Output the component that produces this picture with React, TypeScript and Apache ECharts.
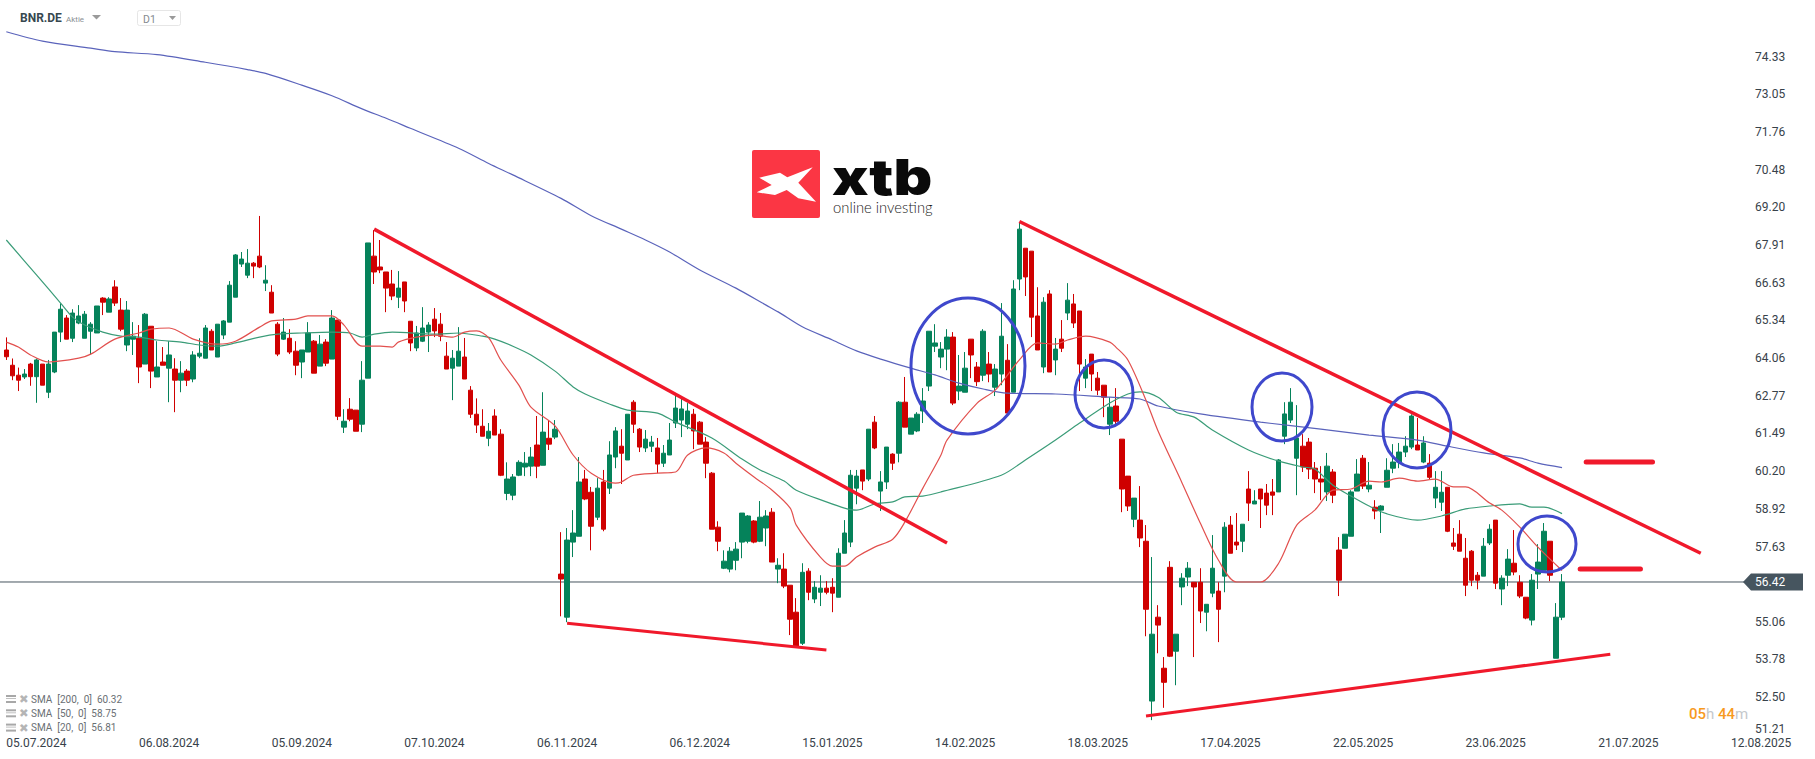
import React, { useEffect, useRef } from "react";
import * as echarts from "echarts";

const dateLabels = ["05.07.2024","06.08.2024","05.09.2024","07.10.2024","06.11.2024","06.12.2024","15.01.2025","14.02.2025","18.03.2025","17.04.2025","22.05.2025","23.06.2025","21.07.2025","12.08.2025"];
const priceTicks = [74.33,73.05,71.76,70.48,69.20,67.91,66.63,65.34,64.06,62.77,61.49,60.20,58.92,57.63,55.06,53.78,52.50];
const bottomTick = 51.21;
const lastPrice = 56.42;

const opens = [
64.33,63.81,63.47,63.41,63.85,63.42,63.85,62.89,63.58,64.94,
65.42,64.73,65.25,64.73,64.97,64.91,66.10,65.62,66.48,65.69,
64.50,64.70,64.73,63.85,65.14,63.41,63.92,63.71,63.68,63.30,
63.61,63.34,64.12,64.05,64.97,64.09,64.84,65.28,66.13,67.26,
66.88,67.29,67.53,66.61,66.30,65.21,64.70,64.73,64.29,63.92,
64.26,64.63,63.78,64.60,64.02,65.35,61.70,62.31,62.28,61.80,
63.37,67.53,67.16,66.99,66.58,66.13,66.65,65.31,64.40,64.63,
64.94,65.38,65.21,64.12,63.71,63.78,64.09,62.96,62.14,61.73,
61.32,62.08,61.46,59.44,59.38,60.06,60.34,60.37,61.09,60.40,
61.32,61.36,56.69,55.22,57.78,57.98,59.93,59.48,58.63,59.83,
59.62,60.68,61.05,60.58,62.55,61.63,60.99,61.05,60.99,60.47,
60.75,61.84,61.94,61.80,62.14,61.87,61.19,60.13,58.29,56.89,
56.86,57.16,57.78,57.81,58.50,57.81,58.26,58.80,56.86,56.86,
56.31,55.39,54.33,56.79,55.84,56.07,56.21,56.24,55.90,57.40,
57.78,59.62,60.24,59.93,61.87,59.52,59.83,60.78,60.81,62.55,
61.46,61.57,62.25,63.10,64.46,64.09,64.36,64.77,62.93,62.89,
64.70,63.75,63.47,63.85,63.06,63.51,63.98,62.89,66.75,67.80,
67.70,65.49,63.75,66.24,63.99,64.70,65.59,65.90,65.66,63.37,
64.19,63.37,63.13,61.80,62.42,61.29,60.03,58.56,58.53,57.81,
52.36,55.22,53.48,56.92,54.06,56.25,56.59,56.41,56.41,55.39,
56.04,56.11,56.62,58.36,57.78,57.81,59.59,59.08,59.59,59.45,
59.49,59.49,61.39,61.94,60.64,61.05,61.19,60.30,59.93,59.49,
60.17,57.51,57.57,57.98,59.52,60.64,59.59,58.97,58.87,59.65,
60.30,60.51,60.85,61.02,61.09,60.51,60.47,59.28,59.14,59.65,
57.75,58.05,57.23,57.47,56.65,56.62,57.75,58.53,56.18,56.65,
57.06,56.41,55.90,55.12,56.69,56.82,57.81,53.82,55.22];

const closes = [
64.10,63.45,63.30,63.51,63.42,63.99,63.13,63.85,64.94,65.72,
64.70,65.59,65.49,65.55,65.21,65.83,65.96,66.07,65.93,65.04,
65.69,64.80,63.75,65.55,63.61,63.75,63.81,64.16,63.30,63.54,
63.30,64.16,64.22,65.08,64.33,65.21,65.32,66.54,67.57,67.43,
67.29,67.19,67.16,66.71,65.59,64.19,64.94,64.26,63.81,64.33,
64.91,63.54,64.53,63.88,65.42,62.07,61.90,61.97,61.56,63.30,
67.98,66.99,67.06,66.44,66.17,66.44,66.00,64.57,64.91,65.08,
65.18,64.98,64.80,63.68,64.05,64.29,63.34,62.14,61.77,61.39,
61.56,61.43,60.06,59.93,60.00,60.50,60.47,60.68,60.37,61.53,
61.12,61.63,56.52,57.85,58.09,59.83,59.25,58.32,59.62,58.22,
60.75,61.57,60.81,62.14,61.80,61.02,61.29,61.19,60.44,60.81,
61.26,62.35,62.32,62.25,61.57,61.12,60.47,58.22,57.81,57.13,
57.47,57.54,58.77,58.67,57.78,58.63,58.67,57.10,56.99,56.28,
55.15,54.21,56.75,56.07,56.24,56.21,56.07,56.04,57.40,58.09,
60.06,60.03,59.86,61.63,60.99,59.83,61.02,60.47,62.55,61.70,
62.01,62.14,62.59,64.97,64.57,64.36,64.77,62.52,63.10,63.71,
64.16,63.25,64.97,63.51,63.68,64.80,62.18,66.41,68.45,66.82,
65.45,64.33,65.96,63.58,64.36,64.39,66.03,65.25,63.85,63.75,
63.51,62.96,62.72,62.38,61.90,59.59,59.01,59.28,57.92,55.49,
54.64,54.95,53.00,53.89,54.64,56.55,56.89,56.25,55.43,55.66,
56.89,55.49,58.29,57.40,57.68,58.39,59.11,59.18,59.25,59.04,
59.38,60.58,62.15,62.55,61.33,60.34,60.27,59.93,59.83,60.37,
59.38,56.48,58.05,59.49,60.10,59.69,59.72,58.84,59.01,60.23,
60.51,60.85,61.05,62.08,60.92,61.16,59.99,59.65,59.48,58.15,
57.64,57.47,56.31,56.48,56.48,57.64,58.22,56.38,56.55,57.20,
56.76,55.94,55.19,56.48,57.10,58.15,56.65,55.22,56.42];

const lows = [
63.99,63.30,62.93,63.34,63.11,62.53,63.13,62.69,63.54,64.60,
64.70,64.60,65.21,64.73,64.17,64.91,65.52,65.62,65.83,64.97,
64.29,64.16,63.20,63.85,63.03,63.41,63.81,62.55,62.21,62.89,
63.10,63.23,64.05,64.05,64.33,64.09,64.70,65.28,66.13,67.16,
66.78,66.78,67.12,66.34,65.59,64.12,64.67,64.19,63.47,63.37,
64.26,63.54,63.78,63.78,64.02,61.94,61.50,61.90,61.56,61.53,
63.37,66.58,66.95,65.62,66.03,65.76,65.62,64.29,64.29,64.60,
64.26,64.77,64.63,63.68,62.62,63.78,63.34,62.01,61.50,61.39,
61.05,61.43,60.03,59.21,59.21,60.03,60.03,60.03,59.96,60.40,
60.92,61.29,55.25,55.05,57.27,57.98,59.21,57.50,58.53,58.15,
59.42,60.30,59.76,60.58,61.50,60.85,60.85,60.85,60.13,60.34,
60.75,61.67,61.36,61.63,60.95,61.12,59.96,58.22,57.47,56.86,
56.75,56.82,57.23,57.74,57.74,57.78,57.64,57.10,56.38,56.21,
54.61,54.21,54.27,55.80,55.70,55.60,56.00,55.39,55.90,57.40,
57.61,59.07,59.55,59.86,60.95,58.84,59.59,60.24,60.50,61.70,
61.46,61.53,61.84,62.93,64.26,63.71,63.64,62.45,62.62,62.89,
63.37,63.10,63.27,63.23,62.76,63.13,62.18,62.89,66.37,66.17,
64.77,64.33,63.54,63.58,63.47,64.26,65.35,65.08,62.93,63.03,
62.93,62.79,62.04,61.43,61.80,58.80,58.84,58.29,57.61,54.57,
51.71,53.99,52.13,53.86,52.90,55.63,56.28,53.86,55.02,54.74,
55.90,54.37,56.07,57.40,57.51,57.44,58.50,59.08,58.26,58.70,
58.70,59.49,61.12,61.84,59.38,60.17,59.93,59.45,59.21,59.18,
59.11,55.94,57.57,57.98,59.52,59.59,59.48,58.56,58.09,59.65,
60.13,60.30,60.68,60.95,60.92,60.47,59.93,58.94,58.84,58.12,
57.51,57.47,55.94,56.28,56.17,56.62,57.68,56.18,55.63,56.28,
56.65,55.87,55.15,54.94,56.18,56.82,56.45,53.82,55.12];

const highs = [
64.76,64.04,63.73,63.68,63.89,64.04,63.85,63.99,64.94,65.92,
65.52,65.72,65.86,65.66,65.28,65.83,66.13,66.13,66.71,66.10,
66.00,65.28,65.18,65.59,65.14,64.63,64.43,64.63,64.05,63.95,
63.68,64.29,64.73,65.18,65.04,65.21,65.35,66.68,67.60,67.67,
67.77,67.33,68.90,67.22,66.54,65.28,65.42,65.04,64.63,64.33,
65.28,64.67,64.84,64.70,65.69,65.35,62.31,62.69,62.28,63.95,
67.98,68.42,68.08,66.99,67.06,67.02,66.65,65.31,65.15,65.79,
65.28,65.76,65.59,64.60,64.33,65.11,64.74,63.10,62.68,62.31,
61.84,62.31,61.63,60.50,60.10,60.57,60.85,61.02,62.08,62.89,
61.94,61.94,58.12,58.26,58.87,60.68,60.24,59.66,59.96,60.24,
61.22,61.70,61.63,62.14,62.62,61.67,61.60,61.40,61.33,61.09,
61.84,62.83,62.69,62.52,62.32,61.91,61.36,60.17,58.49,57.50,
57.61,57.78,58.77,58.70,58.53,59.18,58.87,58.94,57.23,57.40,
56.31,55.87,57.06,56.89,56.45,56.65,56.45,56.55,57.57,58.53,
60.24,60.24,60.24,61.63,62.08,60.20,61.02,60.81,62.59,63.41,
62.01,62.21,63.03,64.97,65.21,64.60,65.04,64.94,64.16,64.26,
64.70,63.92,65.04,64.26,63.85,65.93,64.53,66.71,68.66,67.80,
67.70,66.47,66.13,66.37,64.74,65.35,66.61,66.24,65.66,64.02,
64.19,63.58,63.13,62.72,63.03,61.29,60.03,59.28,59.69,58.36,
57.27,55.63,53.86,57.13,54.64,56.72,57.10,56.41,56.89,55.66,
58.02,56.41,58.46,58.67,58.77,58.39,60.20,59.55,59.59,59.76,
59.93,60.61,62.55,63.03,62.45,61.46,61.33,60.51,60.37,60.82,
60.27,57.95,58.05,59.55,60.61,60.75,60.51,59.21,59.04,60.64,
61.12,61.16,61.39,62.14,62.01,61.39,60.78,60.20,60.20,59.65,
58.26,58.53,57.92,57.51,56.76,57.92,58.39,58.53,56.65,57.54,
58.19,56.65,55.90,56.69,57.71,58.43,57.81,55.70,56.69];

// moving averages: [candle index, value]
const sma200 = [[0,75.18],[6,74.86],[14,74.62],[18,74.50],[25,74.40],[33,74.14],[40,73.89],[43,73.76],[49,73.36],[54,73.00],[59,72.55],[63,72.23],[67,71.89],[75,71.21],[80,70.69],[84,70.30],[92,69.50],[97,68.91],[102,68.45],[106,68.08],[110,67.67],[115,67.06],[121,66.44],[126,65.86],[128,65.63],[132,65.12],[137,64.67],[141,64.30],[145,64.02],[150,63.71],[154,63.48],[158,63.20],[162,63.00],[166,62.86],[174,62.83],[183,62.72],[188,62.66],[191,62.42],[198,62.15],[208,61.87],[218,61.63],[226,61.43],[234,61.26],[239,61.05],[245,60.82],[251,60.65],[254,60.47],[258,60.32]];
const sma50 = [[0,68.08],[5,66.89],[9,65.93],[11,65.45],[13,65.18],[16,64.94],[19,64.80],[22,64.77],[25,64.67],[29,64.60],[32,64.50],[35,64.46],[38,64.57],[42,64.77],[45,64.87],[49,64.91],[54,64.94],[57,64.91],[59,64.77],[61,64.87],[64,64.94],[71,64.87],[75,64.91],[79,64.80],[81,64.70],[84,64.46],[87,64.16],[91,63.61],[94,63.07],[96,62.83],[100,62.49],[103,62.28],[108,62.18],[111,61.87],[117,61.33],[122,60.61],[125,60.24],[129,59.86],[131,59.55],[136,59.15],[139,58.94],[141,58.87],[144,59.08],[147,59.15],[149,59.32],[152,59.35],[155,59.49],[165,60.06],[169,60.58],[174,61.26],[178,61.84],[183,62.52],[186,62.83],[188,62.90],[191,62.72],[194,62.21],[197,62.04],[200,61.60],[206,60.92],[211,60.54],[215,60.34],[217,60.27],[220,59.72],[223,59.35],[226,59.01],[229,58.74],[234,58.53],[238,58.67],[242,58.91],[246,59.01],[251,59.08],[253,58.97],[255,58.97],[258,58.75]];
const sma20 = [[0,64.60],[2,64.43],[4,64.16],[7,63.92],[12,64.05],[14,64.19],[18,64.70],[22,64.91],[24,65.04],[27,65.08],[31,64.70],[35,64.53],[38,64.63],[42,65.11],[44,65.32],[48,65.38],[50,65.49],[54,65.49],[56,65.18],[59,64.46],[62,64.46],[64,64.43],[65,64.60],[68,64.77],[71,64.84],[74,64.77],[76,64.94],[78,64.98],[80,64.74],[82,63.99],[85,63.13],[87,62.38],[91,61.74],[94,60.75],[97,60.13],[101,59.79],[102,59.83],[104,60.06],[108,60.13],[111,60.17],[113,60.75],[116,60.99],[119,60.82],[121,60.47],[124,60.00],[127,59.55],[130,58.94],[131,58.36],[135,57.27],[137,56.96],[139,56.96],[141,57.27],[144,57.61],[147,57.88],[149,58.46],[152,59.62],[155,60.75],[156,61.26],[161,62.52],[164,62.96],[168,63.99],[171,64.57],[174,64.53],[176,64.67],[179,64.80],[183,64.60],[184,64.43],[186,63.99],[189,62.62],[191,61.57],[195,59.79],[198,58.43],[201,57.17],[204,56.42],[208,56.42],[211,57.06],[214,58.36],[217,58.87],[220,59.55],[223,59.59],[226,59.86],[228,59.83],[231,59.96],[234,59.86],[237,59.93],[240,59.66],[242,59.66],[246,59.11],[248,58.87],[251,58.29],[254,57.61],[258,56.81]];

// hand-drawn chart annotations: [candle index, price] end points
const trendLines = [
  { width: 3.5, points: [[61,68.45],[156,57.75]] },
  { width: 3.5, points: [[168,68.71],[281,57.40]] },
  { width: 3, points: [[93,55.01],[136,54.10]] },
  { width: 3, points: [[189,51.85],[266,53.96]] },
  { width: 5, points: [[262,60.51],[273,60.51]] },
  { width: 5, points: [[261,56.86],[271,56.86]] },
];
const circles = [[968,366,57,68],[1104,394,29,34],[1282,407,30,34],[1417,430,34,38],[1547,544,29,28]];
const legendRows = ["SMA  [200,  0]  60.32", "SMA  [50,  0]  58.75", "SMA  [20,  0]  56.81"];

const CATEGORY_COUNT = 290;
const categories = Array.from({ length: CATEGORY_COUNT }, (_, i) => (i % 22 === 0 ? dateLabels[i / 22] : ""));
const candles = opens.map((o, i) => [o, closes[i], lows[i], highs[i]]);
const GREEN = "#05825a";
const RED = "#cf0000";
const FONT = "Roboto";

function t(text: string, x: number, y: number, size: number, fill: string, extra: any = {}, el: any = {}) {
  return {
    type: "text", x, y, z: 20, ...el,
    style: { text, fill, fontFamily: FONT, fontSize: size, align: "left", verticalAlign: "middle", textAlign: "left", textVerticalAlign: "middle", ...extra },
  };
}

export default function App() {
  const ref = useRef<HTMLDivElement>(null);
  useEffect(() => {
    const chart = echarts.init(ref.current!, null, { renderer: "svg" });
    chart.setOption({
      animation: false,
      backgroundColor: "#ffffff",
      grid: { left: 3.3, top: 0, width: 1748.7, height: 734.8, containLabel: false },
      xAxis: {
        type: "category", data: categories, boundaryGap: true,
        axisLine: { show: false }, axisTick: { show: false }, splitLine: { show: false },
        axisLabel: { interval: 21, align: "left", margin: 2, color: "#37424a", fontFamily: FONT, fontSize: 12, hideOverlap: false },
      },
      yAxis: {
        type: "value", position: "right", min: bottomTick, max: 76.263,
        axisLine: { show: false }, axisTick: { show: false }, splitLine: { show: false },
        axisLabel: {
          customValues: priceTicks, margin: 3, color: "#37424a", fontFamily: FONT, fontSize: 12,
          formatter: (v: number) => v.toFixed(2),
        },
      },
      series: [
        {
          type: "candlestick", name: "BNR.DE", data: candles, barWidth: 5, large: false, progressive: 0,
          itemStyle: { color: GREEN, color0: RED, borderColor: GREEN, borderColor0: RED, borderWidth: 1 },
        },
        ...[["SMA 200", sma200, "#5a63bb"], ["SMA 50", sma50, "#3a9c78"], ["SMA 20", sma20, "#e2504e"]].map(([name, data, color]) => ({
          type: "line", name, data, showSymbol: false, smooth: 0.3, lineStyle: { width: 1.2, color }, itemStyle: { color },
        })),
        ...trendLines.map((l) => ({
          type: "line", data: l.points, showSymbol: false, clip: false,
          lineStyle: { width: l.width, color: "#f0192b", cap: l.width > 4 ? "round" : "butt" },
        })),
      ],
    });

    const y = chart.convertToPixel({ yAxisIndex: 0 }, lastPrice) as number;
    const graphic: any[] = [
      { type: "line", z: 1, shape: { x1: 0, y1: y, x2: 1745, y2: y }, style: { stroke: "#46555f", lineWidth: 1 } },
      { type: "polygon", z: 19, shape: { points: [[1743, y], [1751, y - 8.5], [1803, y - 8.5], [1803, y + 8.5], [1751, y + 8.5]] }, style: { fill: "#46555f" } },
      t(lastPrice.toFixed(2), 1755, y, 12, "#ffffff"),
      t(bottomTick.toFixed(2), 1755, 729, 12, "#37424a"),
      // circles
      ...circles.map(([cx, cy, rx, ry]) => ({ type: "ellipse", z: 15, shape: { cx, cy, rx, ry }, style: { fill: "none", stroke: "#3f48cc", lineWidth: 3 } })),
      // header
      t("BNR.DE", 20, 18, 12, "#37474f", { fontWeight: "bold" }),
      t("Aktie", 66, 19, 8, "#8a8f94"),
      { type: "polygon", z: 20, shape: { points: [[92, 15], [101, 15], [96.5, 19.5]] }, style: { fill: "#9a9a9a" } },
      { type: "rect", z: 20, shape: { x: 137.5, y: 10.5, width: 43, height: 15, r: 2 }, style: { fill: "#fff", stroke: "#e6e6e6", lineWidth: 1 } },
      t("D1", 143, 19, 10.5, "#858a8f"),
      { type: "polygon", z: 20, shape: { points: [[169, 16], [176, 16], [172.5, 20]] }, style: { fill: "#9a9a9a" } },
      // logo
      { type: "rect", z: 20, shape: { x: 752, y: 150, width: 68, height: 68, r: 2 }, style: { fill: "#fb3644" } },
      { type: "polygon", z: 21, shape: { points: [[759.3, 177.7], [780, 172.7], [787.3, 177.3], [812.7, 167.3], [798.3, 182.7], [816, 201.7], [798.3, 198.3], [786.7, 190], [775, 195], [756.7, 192.3], [771.7, 185]] }, style: { fill: "#ffffff" } },
      t("xtb", 832, 177, 50, "#0a0a0a", { fontFamily: "Inter", fontWeight: 900 }, { scaleX: 1.2 }),
      t("online investing", 833, 207, 14.8, "#1c1c1c", { fontFamily: "Lato", fontWeight: 300 }),
      // timer
      {
        type: "text", x: 1689, y: 714, z: 20,
        style: {
          text: "{a|05}{b|h} {a|44}{b|m}", fontFamily: FONT, fontSize: 15, verticalAlign: "middle", textVerticalAlign: "middle",
          rich: { a: { fill: "#f79a1e", fontSize: 15, fontFamily: FONT, fontWeight: 500 }, b: { fill: "#c4c8cc", fontSize: 15, fontFamily: FONT } },
        },
      },
    ];
    legendRows.forEach((label, i) => {
      const ry = 699 + i * 14.3;
      graphic.push(
        { type: "rect", z: 20, shape: { x: 6, y: ry - 4, width: 10, height: 2 }, style: { fill: "#a8a8a8" } },
        { type: "rect", z: 20, shape: { x: 6, y: ry - 1, width: 10, height: 1 }, style: { fill: "#c0c0c0" } },
        { type: "rect", z: 20, shape: { x: 6, y: ry + 2, width: 10, height: 2 }, style: { fill: "#a8a8a8" } },
        t("✖", 19, ry, 11.5, "#b5b5b5", { fontFamily: "DejaVu Sans" }),
        t(label, 31, ry, 10, "#6a6f74"),
      );
    });
    chart.setOption({ graphic });
    return () => chart.dispose();
  }, []);
  return <div ref={ref} style={{ position: "fixed", left: 0, top: 0, width: 1815, height: 759 }} />;
}
